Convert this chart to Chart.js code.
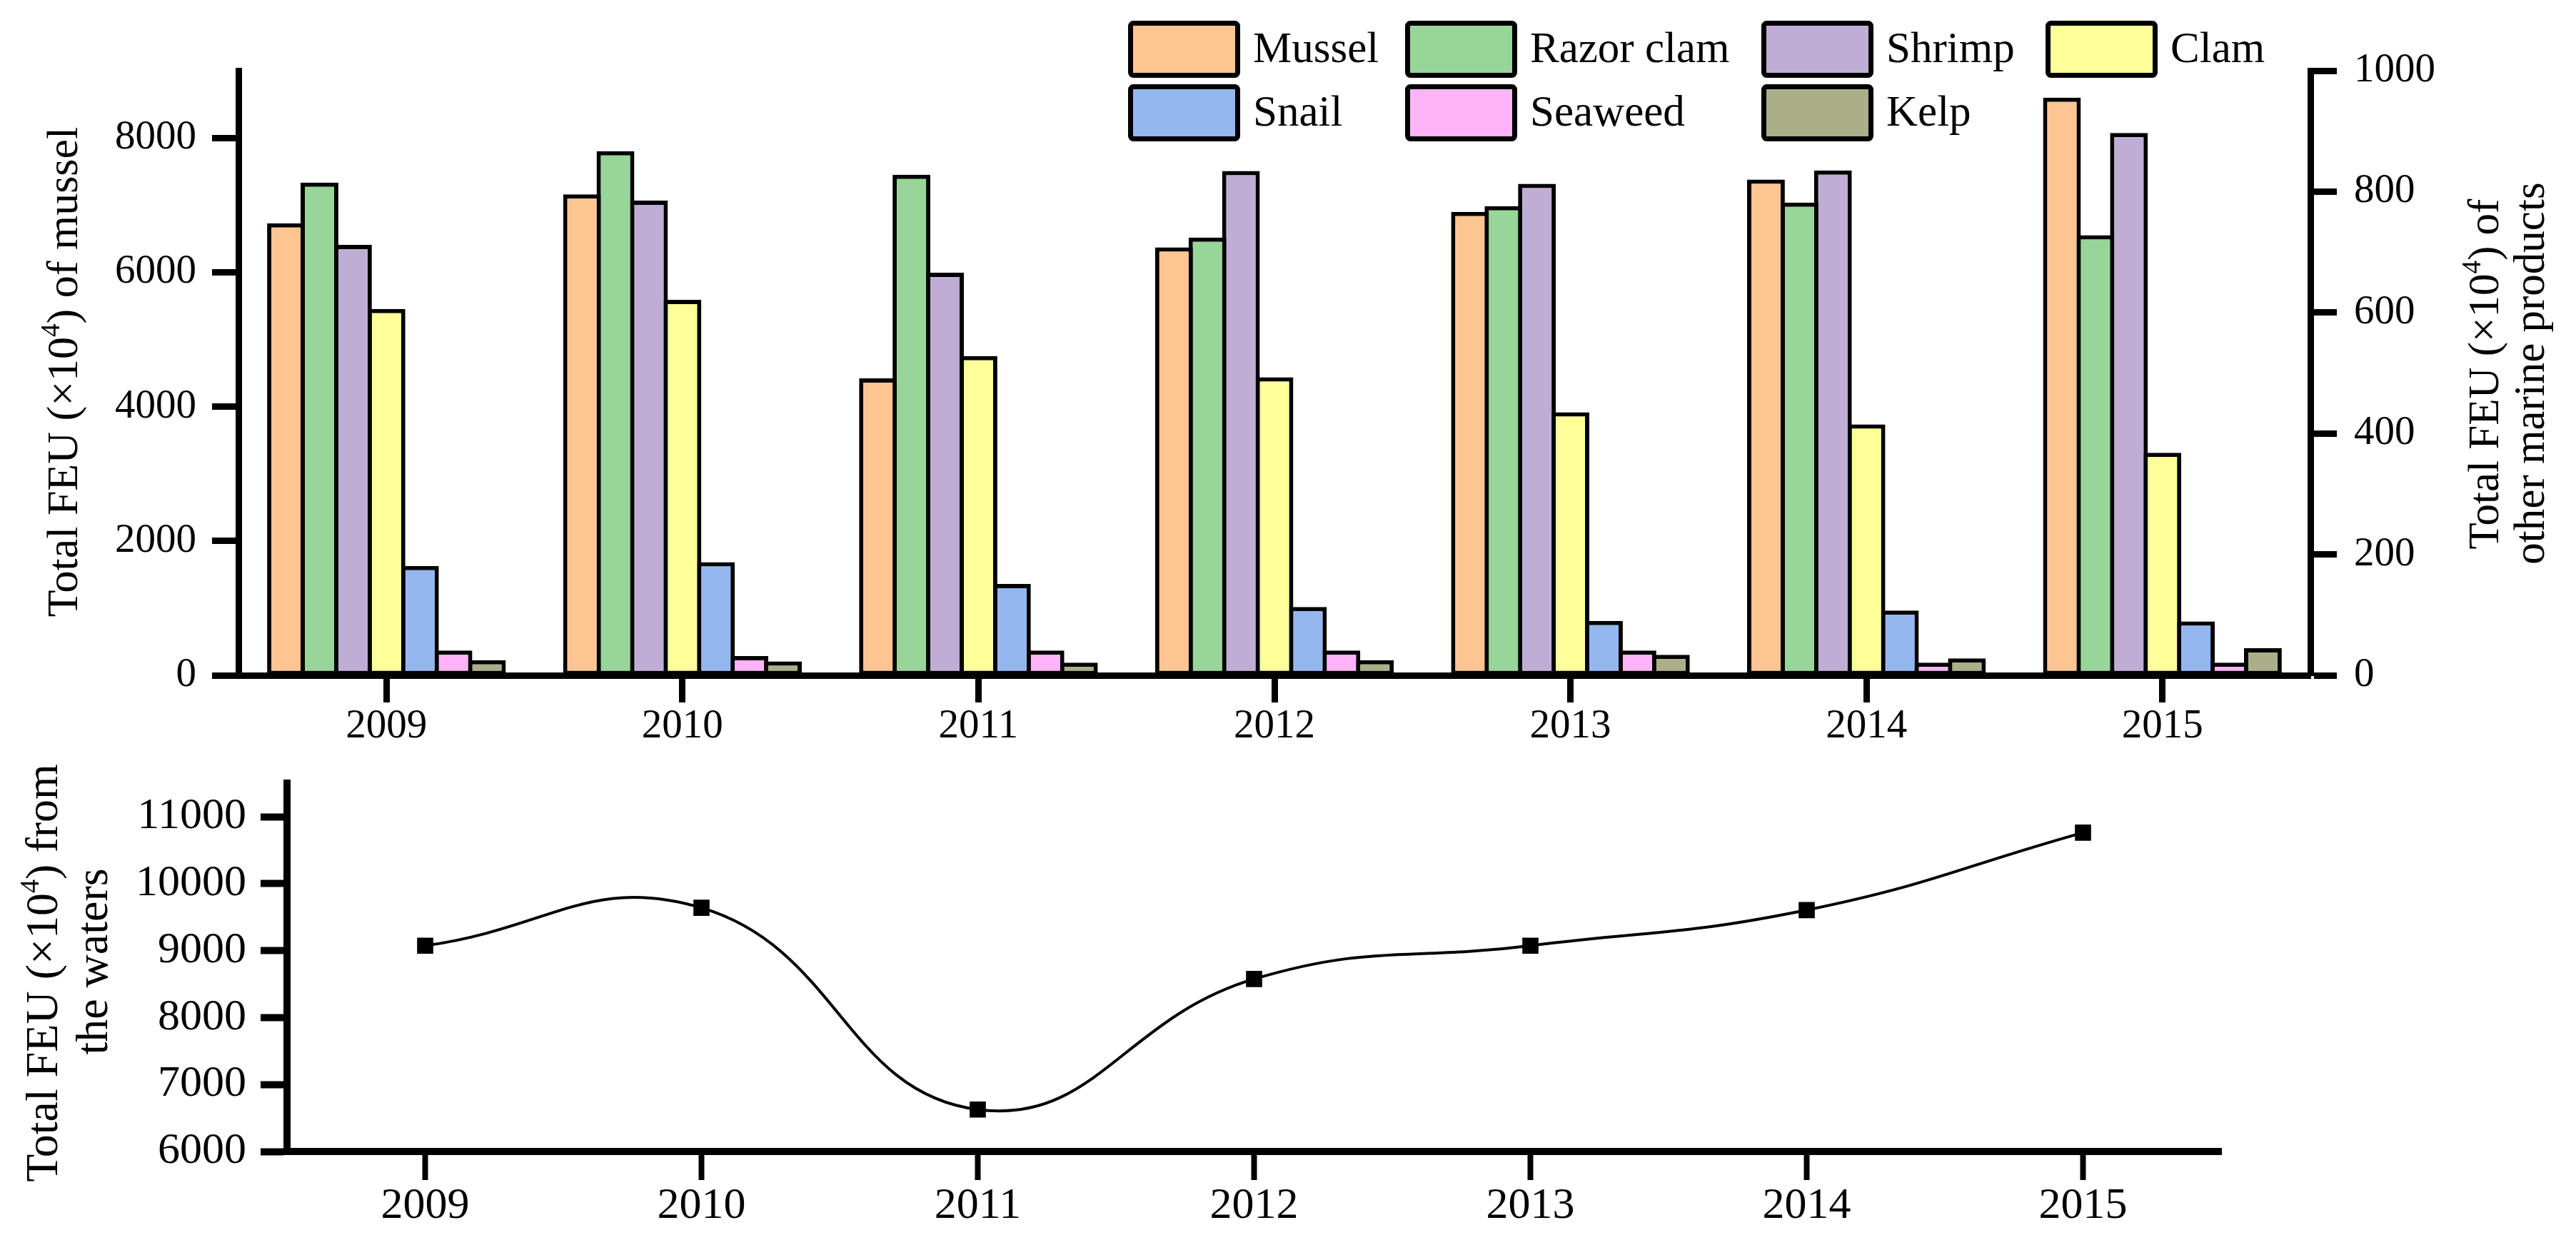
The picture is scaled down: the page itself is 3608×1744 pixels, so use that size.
<!DOCTYPE html>
<html>
<head>
<meta charset="utf-8">
<script src="https://cdn.jsdelivr.net/npm/chart.js@4.4.1/dist/chart.umd.min.js"></script>
<style>
  html, body { margin: 0; padding: 0; background: #fff; }
  #top { position: absolute; left: 0; top: 0; width: 3608px; height: 1070px; }
  #bottom { position: absolute; left: 0; top: 1040px; width: 3608px; height: 704px; }
</style>
</head>
<body>
<div id="top"><canvas id="barChart"></canvas></div>
<div id="bottom"><canvas id="lineChart"></canvas></div>
<script>
// data
const years = ['2009', '2010', '2011', '2012', '2013', '2014', '2015'];
const mussel = [6730, 7160, 4420, 6370, 6900, 7380, 8600];   // left axis
const razorClam = [815, 867, 828, 724, 776, 782, 728];         // right axis
const shrimp = [712, 785, 666, 834, 813, 835, 897];
const clam = [606, 621, 528, 493, 435, 415, 368];
const snail = [181, 187, 151, 113, 90, 107, 89];
const seaweed = [41, 32, 41, 41, 41, 21, 21];
const kelp = [25, 23, 21, 25, 34, 28, 45];
const totalFEU = [9074, 9640, 6626, 8576, 9074, 9606, 10763];

const leftTicks = [0, 2000, 4000, 6000, 8000];
const rightTicks = [0, 200, 400, 600, 800, 1000];
const lineTicks = [6000, 7000, 8000, 9000, 10000, 11000];

const FONT = "'Liberation Serif', 'Times New Roman', serif";
Chart.defaults.font.family = FONT;
Chart.defaults.color = '#000';

function drawVertical(ctx, parts, cx, cy, size) {
    ctx.save();
    ctx.translate(cx, cy);
    ctx.rotate(-Math.PI / 2);
    ctx.textBaseline = 'middle';
    ctx.textAlign = 'left';
    ctx.fillStyle = '#000';
    const mainFont = size + 'px ' + FONT;
    const supFont = Math.round(size * 0.6) + 'px ' + FONT;
    let w = 0;
    parts.forEach(p => { ctx.font = p.sup ? supFont : mainFont; w += ctx.measureText(p.t).width; });
    let x = -w / 2;
    parts.forEach(p => {
        ctx.font = p.sup ? supFont : mainFont;
        ctx.fillText(p.t, x, p.sup ? -size * 0.3 : 0);
        x += ctx.measureText(p.t).width;
    });
    ctx.restore();
}

const legendCols = [1580, 1968, 2467, 2865];
const legendRows = [29, 118];

const topDecor = {
    id: 'topDecor',
    afterDraw(chart) {
        const ctx = chart.ctx;
        // legend in a grid, 4 + 3
        chart.data.datasets.forEach((ds, i) => {
            const x = legendCols[i % 4];
            const y = legendRows[Math.floor(i / 4)];
            const w = 157, h = 80;
            ctx.save();
            ctx.fillStyle = ds.backgroundColor;
            ctx.strokeStyle = '#000';
            ctx.lineWidth = 7;
            ctx.beginPath();
            ctx.roundRect(x + 3.5, y + 3.5, w - 7, h - 7, 4);
            ctx.fill();
            ctx.stroke();
            ctx.fillStyle = '#000';
            ctx.font = '61px ' + FONT;
            ctx.textBaseline = 'middle';
            ctx.textAlign = 'left';
            ctx.fillText(ds.label, x + w + 18, y + h / 2 + 2);
            ctx.restore();
        });
        drawVertical(ctx, [{t: 'Total FEU (×10'}, {t: '4', sup: true}, {t: ') of mussel'}], 92, 521, 62);
        drawVertical(ctx, [{t: 'Total FEU (×10'}, {t: '4', sup: true}, {t: ') of'}], 3483, 524, 61);
        drawVertical(ctx, [{t: 'other marine products'}], 3547, 523, 61);
    }
};

const bottomDecor = {
    id: 'bottomDecor',
    afterDraw(chart) {
        const ctx = chart.ctx;
        drawVertical(ctx, [{t: 'Total FEU (×10'}, {t: '4', sup: true}, {t: ') from'}], 63, 323, 64);
        drawVertical(ctx, [{t: 'the waters'}], 133, 307, 64);
    }
};

function barSet(label, data, color, axis) {
    return {
        label: label,
        data: data,
        yAxisID: axis,
        backgroundColor: color,
        borderColor: '#000',
        borderWidth: 6,
        borderSkipped: false,
        categoryPercentage: 0.792,
        barPercentage: 1.128
    };
}

const axisGrid = (len, w) => ({ display: true, drawOnChartArea: false, offset: false, tickLength: len, tickWidth: w, tickColor: '#000' });
const axisBorder = (w) => ({ display: true, width: w, color: '#000', z: 1 });

new Chart(document.getElementById('barChart').getContext('2d'), {
    type: 'bar',
    data: {
        labels: years,
        datasets: [
            barSet('Mussel', mussel, '#FDC591', 'yL'),
            barSet('Razor clam', razorClam, '#98D598', 'yR'),
            barSet('Shrimp', shrimp, '#BFADD6', 'yR'),
            barSet('Clam', clam, '#FFFF99', 'yR'),
            barSet('Snail', snail, '#94B7F0', 'yR'),
            barSet('Seaweed', seaweed, '#FFB4F8', 'yR'),
            barSet('Kelp', kelp, '#AAAF89', 'yR')
        ]
    },
    options: {
        responsive: true,
        maintainAspectRatio: false,
        animation: false,
        devicePixelRatio: 1,
        layout: { padding: { top: 99, left: 0, right: 0, bottom: 0 } },
        plugins: { legend: { display: false }, tooltip: { enabled: false } },
        scales: {
            x: {
                type: 'category',
                offset: true,
                grid: axisGrid(38, 9),
                border: axisBorder(9),
                ticks: { color: '#000', font: { size: 57 }, padding: 0, maxRotation: 0 },
                afterFit(s) { s.height = 1070 - 946; }
            },
            yL: {
                position: 'left',
                min: 0,
                max: 9000,
                afterBuildTicks(s) { s.ticks = leftTicks.map(v => ({ value: v })); },
                grid: axisGrid(37, 9),
                border: axisBorder(9),
                ticks: { color: '#000', font: { size: 57 }, padding: 22, callback: v => String(v) },
                afterFit(s) { s.width = 334; }
            },
            yR: {
                position: 'right',
                min: 0,
                max: 1000,
                afterBuildTicks(s) { s.ticks = rightTicks.map(v => ({ value: v })); },
                grid: axisGrid(37, 9),
                border: axisBorder(9),
                ticks: { color: '#000', font: { size: 57 }, padding: 24, callback: v => String(v) },
                afterFit(s) { s.width = 3608 - 3236; }
            }
        }
    },
    plugins: [topDecor]
});

new Chart(document.getElementById('lineChart').getContext('2d'), {
    type: 'line',
    data: {
        labels: years,
        datasets: [{
            label: 'Total FEU',
            data: totalFEU,
            borderColor: '#000',
            borderWidth: 4,
            tension: 0.45,
            fill: false,
            pointStyle: 'rect',
            pointRadius: 16,
            pointBackgroundColor: '#000',
            pointBorderWidth: 0
        }]
    },
    options: {
        responsive: true,
        maintainAspectRatio: false,
        animation: false,
        devicePixelRatio: 1,
        layout: { padding: { top: 44.5, left: 0, right: 3608 - 3111, bottom: 0 } },
        plugins: { legend: { display: false }, tooltip: { enabled: false } },
        scales: {
            x: {
                type: 'category',
                offset: true,
                grid: axisGrid(40, 8),
                border: axisBorder(10),
                ticks: { color: '#000', font: { size: 62 }, padding: 0, maxRotation: 0 },
                afterFit(s) { s.height = 704 - (1613 - 1040); }
            },
            y: {
                min: 6000,
                max: 11500,
                afterBuildTicks(s) { s.ticks = lineTicks.map(v => ({ value: v })); },
                grid: axisGrid(37, 10),
                border: axisBorder(10),
                ticks: { color: '#000', font: { size: 62 }, padding: 20, callback: v => String(v) },
                afterFit(s) { s.width = 402; }
            }
        }
    },
    plugins: [bottomDecor]
});
</script>
</body>
</html>
